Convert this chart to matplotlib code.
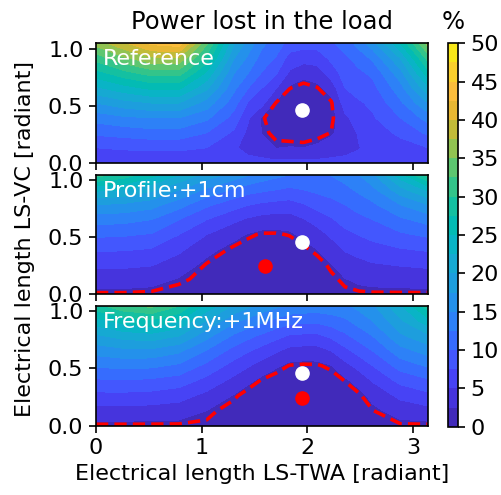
import numpy as np
import matplotlib.pyplot as plt
from matplotlib.colors import LinearSegmentedColormap

# Electrical lengths of the grid [radiant] (finer around the optimum)
x_twa = np.pi / 24 * np.array([0, 2, 4, 6, 8, 10, 11, 12, 13, 14, 15, 16, 17,
                               18, 19, 20, 22, 24])
y_vc = np.linspace(0, np.pi / 3, 9)

# Power lost in the load [%].
# One list per LS-TWA length (x), values going up in LS-VC length (y).
loss_ref = [
    [5.6, 7.5, 10.5, 13.5, 17.5, 22, 26.5, 31, 36],
    [5.6, 7.8, 11, 14.5, 19, 24, 29, 34.5, 39.5],
    [5.6, 8, 11.5, 15, 20, 25.5, 31, 37, 43],
    [5.6, 8, 11.5, 15, 20, 25.5, 31, 37, 44],
    [5.6, 7.5, 10, 13, 16.5, 20.5, 24.5, 29, 33],
    [5.6, 5.2, 7, 9, 11, 13, 15, 17.5, 20],
    [5.6, 4.4, 4.4, 5.3, 7.2, 10, 12.5, 14.5, 16.5],
    [5.6, 3.8, 2.4, 2.15, 5.8, 7.5, 9.8, 11.5, 13],
    [5.6, 2.4, 1.6, 1.3, 1.95, 5.2, 7.8, 9.8, 11.5],
    [5.6, 2.6, 1.2, 0.85, 0.95, 2.05, 4.6, 6.5, 9],
    [5.6, 2.5, 1.1, 0.7, 0.7, 1.4, 3.2, 6.0, 8.5],
    [5.6, 2.9, 1.4, 0.9, 1.0, 1.9, 3.8, 6.2, 8.5],
    [5.6, 3.8, 2.05, 1.5, 1.75, 3.6, 6.2, 8, 9.6],
    [5.6, 4.3, 3.8, 4.5, 6.2, 7.5, 8.5, 9.5, 11],
    [5.6, 4.9, 5.2, 6.2, 7.2, 8.5, 9.5, 11, 13.5],
    [5.6, 5.7, 6.3, 7.2, 8, 9.2, 10.5, 13, 16.5],
    [5.6, 6.5, 8, 10, 12, 14, 16.5, 20, 25],
    [5.6, 7.5, 10.5, 13.5, 17.5, 22, 26.5, 31, 36],
]
loss_profile = [
    [1.8, 3.6, 5.5, 7.8, 10.5, 13.5, 17.5, 23, 31],
    [1.8, 3.6, 5.5, 7.7, 10.3, 13.3, 17, 22.5, 29],
    [1.7, 3.3, 5.2, 7.3, 9.8, 12.5, 16, 20.5, 26],
    [1.4, 2.3, 3.8, 5.5, 7.5, 10, 13.5, 17.5, 22.5],
    [1.2, 1.5, 1.9, 3.2, 5, 7.5, 10.5, 14.5, 19],
    [1.1, 0.9, 1.0, 1.6, 3.2, 5.5, 8.5, 12, 16.5],
    [1.1, 0.7, 0.6, 1.2, 2.3, 4.6, 7.6, 11, 15.2],
    [1.2, 0.6, 0.4, 0.9, 1.8, 4, 7, 10.5, 14],
    [1.3, 0.6, 0.45, 0.9, 1.8, 3.8, 6.7, 10, 13.2],
    [1.4, 0.7, 0.6, 1.0, 2.1, 3.8, 6.5, 9.5, 12.5],
    [1.5, 0.8, 0.9, 1.6, 3.0, 4.8, 7.3, 10, 12.2],
    [1.6, 1.0, 1.3, 2.5, 4.0, 6, 8.5, 10.5, 12],
    [1.6, 1.6, 2.4, 3.8, 5.4, 7.2, 9.2, 11, 12.6],
    [1.6, 2.4, 3.8, 5.2, 6.8, 8.5, 10, 11.8, 13.5],
    [1.75, 2.9, 4.3, 5.9, 7.6, 9.3, 11, 13, 15],
    [1.8, 3.2, 4.8, 6.5, 8.3, 10, 12, 14.3, 17],
    [1.8, 3.4, 5.2, 7.3, 9.6, 12, 15, 19, 24],
    [1.8, 3.6, 5.5, 7.8, 10.5, 13.5, 17.5, 23, 31],
]
loss_freq = [
    [1.8, 4.2, 6.8, 9.6, 12.8, 16, 19.5, 24, 29],
    [1.8, 4.2, 6.8, 9.8, 13.2, 16.8, 21, 26, 32],
    [1.8, 4.0, 6.6, 9.5, 13, 16.8, 21.5, 27, 33],
    [1.8, 3.7, 6.0, 8.8, 12, 15.5, 20, 25, 30],
    [1.7, 2.5, 4.3, 6.7, 9.3, 12.3, 15.8, 19.8, 24],
    [1.4, 1.2, 2.3, 4.2, 6.5, 9, 12, 15.5, 19.5],
    [1.3, 0.9, 1.2, 3.0, 5.2, 7.7, 10.7, 14.2, 18],
    [1.2, 0.7, 0.6, 1.8, 4.0, 6.5, 9.5, 13, 16.5],
    [1.25, 0.55, 0.4, 1.2, 2.8, 5.3, 8.3, 11.8, 15.5],
    [1.3, 0.5, 0.3, 0.8, 1.9, 4.2, 7.2, 10.8, 14.5],
    [1.35, 0.45, 0.25, 0.7, 1.75, 4.0, 7, 10.6, 14.2],
    [1.4, 0.5, 0.3, 0.7, 1.8, 4.0, 7, 10.5, 14],
    [1.5, 0.65, 0.5, 1.1, 2.4, 5.0, 8, 11.2, 14.2],
    [1.6, 0.9, 0.8, 2.05, 4.2, 6.8, 9.5, 12, 14.5],
    [1.7, 1.3, 1.7, 3.4, 5.8, 8.4, 11, 13.5, 15.7],
    [1.8, 1.95, 3.2, 5.2, 7.5, 10, 12.5, 15, 17],
    [1.8, 3.5, 5.6, 8.2, 11, 14, 17, 19.5, 22],
    [1.8, 4.2, 6.8, 9.6, 12.8, 16, 19.5, 24, 29],
]

panel_names = ["Reference", "Profile:+1cm", "Frequency:+1MHz"]
panel_data = [loss_ref, loss_profile, loss_freq]

# optimum of the reference (white) and of the shifted case (red)
opt_ref = (1.95, 0.46)
opt_shift = [None, (1.60, 0.25), (1.95, 0.245)]

levels = np.linspace(0, 50, 21)
dashed_level = 2.0

# parula-like colour map
parula = ["#3e26a8", "#4530d5", "#4840f4", "#4359ff", "#3371fe", "#2a89f4",
          "#1f98e3", "#19a6d5", "#0ab3c7", "#02bcb3", "#18c19d", "#40c681",
          "#7ec65d", "#b8bc3b", "#e6b632", "#fdbe3d", "#f9d627", "#f6f30f"]
cmap = LinearSegmentedColormap.from_list("parula", parula)

plt.rcParams["font.size"] = 16
plt.rcParams["axes.linewidth"] = 1.2
for a in ["x", "y"]:
    plt.rcParams[a + "tick.major.size"] = 5
    plt.rcParams[a + "tick.major.width"] = 1.2
    plt.rcParams[a + "tick.major.pad"] = 4

fig = plt.figure(figsize=(5.02, 4.95), dpi=100)
bottoms = [0.6713, 0.4055, 0.1404]
axes = []
for k in range(3):
    ax = fig.add_axes([0.1912, bottoms[k], 0.6614, 0.2412])
    Z = np.array(panel_data[k]).T
    cs = ax.contourf(x_twa, y_vc, Z, levels=levels, cmap=cmap)
    cl = ax.contour(x_twa, y_vc, Z, levels=[dashed_level], colors="red",
                    linewidths=2.6)
    cl.set_linestyle((0, (3.4, 1.7)))
    ax.plot(opt_ref[0], opt_ref[1], "o", color="white", ms=9.5)
    if opt_shift[k] is not None:
        ax.plot(opt_shift[k][0], opt_shift[k][1], "o", color="red", ms=9.5)
    ax.text(0.02, 0.95, panel_names[k], color="white", transform=ax.transAxes,
            va="top", ha="left")
    ax.set_xlim(0, np.pi)
    ax.set_ylim(0, np.pi / 3)
    ax.set_xticks([0, 1, 2, 3])
    ax.set_yticks([0.0, 0.5, 1.0])
    if k < 2:
        ax.set_xticklabels([])
    axes.append(ax)

axes[0].set_title("Power lost in the load", pad=10, fontsize=17.5)
axes[2].set_xlabel("Electrical length LS-TWA [radiant]")
fig.text(0.05, 0.517, "Electrical length LS-VC [radiant]", rotation=90,
         ha="center", va="center")

cax = fig.add_axes([0.8924, 0.138, 0.0199, 0.7745])
cb = fig.colorbar(cs, cax=cax, ticks=range(0, 51, 5))
cax.set_title("%", pad=10, fontsize=17.5)

fig.savefig("out.png", dpi=100)
